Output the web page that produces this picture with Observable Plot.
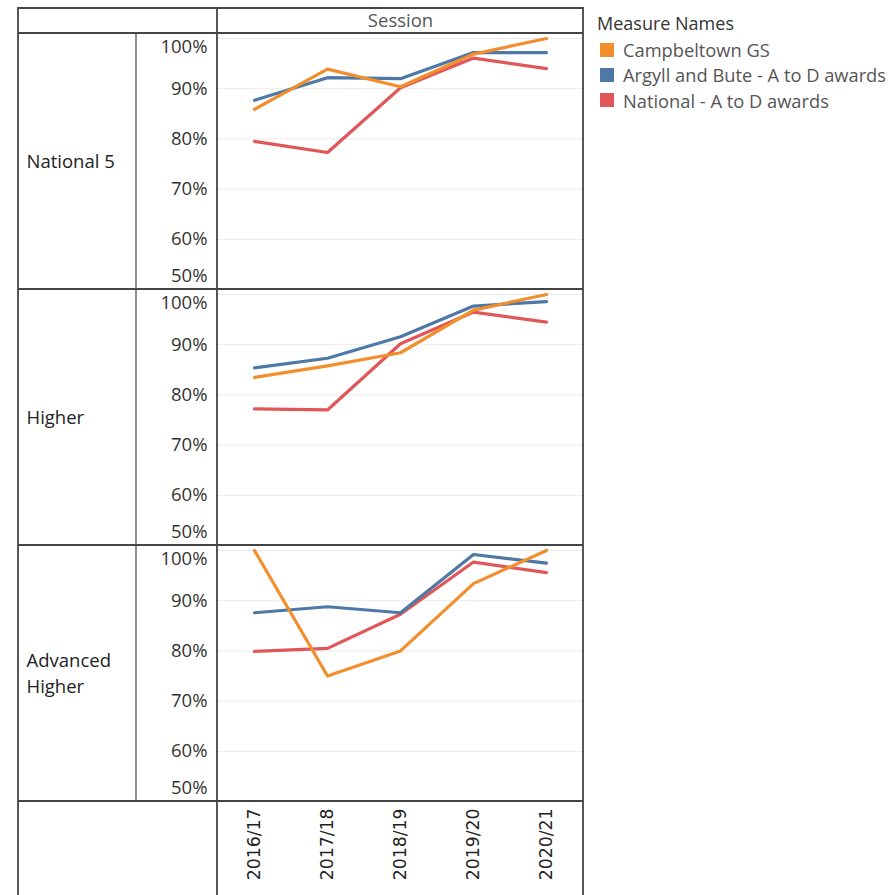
<!DOCTYPE html>
<html>
<head>
<meta charset="utf-8">
<script src="https://cdn.jsdelivr.net/npm/d3@7"></script>
<script src="https://cdn.jsdelivr.net/npm/@observablehq/plot@0.6"></script>
<style>
  html, body { margin: 0; padding: 0; background: #fff; }
  #wrap { position: relative; width: 896px; height: 895px; overflow: hidden; }
  #chart { position: absolute; left: 0; top: 0; }
  #legend { position: absolute; left: 597px; top: 10px; font-family: "Open Sans", sans-serif; }
  #legend .title { font-size: 18px; color: #333; line-height: 27px; height: 27px; }
  #legend .item { display: flex; align-items: center; height: 25.3px; font-size: 18.3px; color: #555; }
  #legend .sw { width: 14px; height: 14px; margin-left: 3px; margin-right: 9px; flex: none; }
</style>
</head>
<body>
<div id="wrap"><div id="chart"></div><div id="legend"></div></div>
<script>
// ---- data ----
const sessions = ["2016/17", "2017/18", "2018/19", "2019/20", "2020/21"];
const levels = ["National 5", "Higher", "Advanced Higher"];
const seriesNames = ["Campbeltown GS", "Argyll and Bute - A to D awards", "National - A to D awards"];
const seriesColors = ["#F28E2B", "#4E79A7", "#E15759"];
const yTicks = [50, 60, 70, 80, 90, 100];

const campbeltownN5 = [85.9, 93.9, 90.4, 96.9, 100.0];
const campbeltownHigher = [83.5, 85.8, 88.4, 96.9, 100.0];
const campbeltownAdvHigher = [100.0, 75.0, 80.0, 93.4, 100.0];

const argyllN5 = [87.7, 92.2, 92.0, 97.2, 97.2];
const argyllHigher = [85.4, 87.3, 91.6, 97.7, 98.6];
const argyllAdvHigher = [87.6, 88.8, 87.6, 99.2, 97.5];

const nationalN5 = [79.5, 77.3, 90.2, 96.1, 94.0];
const nationalHigher = [77.2, 77.0, 90.2, 96.5, 94.5];
const nationalAdvHigher = [79.9, 80.5, 87.3, 97.7, 95.6];

// ---- build long table (draw order: national, argyll, campbeltown) ----
const byLevel = {
  "National 5": [nationalN5, argyllN5, campbeltownN5],
  "Higher": [nationalHigher, argyllHigher, campbeltownHigher],
  "Advanced Higher": [nationalAdvHigher, argyllAdvHigher, campbeltownAdvHigher]
};
const drawOrder = [seriesNames[2], seriesNames[1], seriesNames[0]];
const data = [];
for (const level of levels) {
  byLevel[level].forEach((vals, si) => {
    vals.forEach((v, i) => data.push({level, series: drawOrder[si], session: sessions[i], value: v}));
  });
}

const W = 590, Hgt = 895, mL = 217, mR = 7, mT = 33, mB = 94;
const tickFmt = d => d + "%";
const chart = Plot.plot({
  width: W,
  height: Hgt,
  marginLeft: mL,
  marginRight: mR,
  marginTop: mT,
  marginBottom: mB,
  style: {fontFamily: "Open Sans, sans-serif", fontSize: "18.5px", color: "#333", background: "transparent", overflow: "visible"},
  x: {type: "point", domain: sessions, padding: 0.5},
  y: {domain: [50, 101]},
  fy: {domain: levels, padding: 0, axis: null},
  color: {domain: seriesNames, range: seriesColors},
  marks: [
    Plot.gridY({ticks: yTicks.slice(1), stroke: "#ebebeb", strokeOpacity: 1}),
    Plot.axisY({ticks: yTicks.slice(1, 5), tickSize: 0, tickPadding: 10, tickFormat: tickFmt, label: null, fill: "#333", fontSize: 18.5}),
    Plot.axisY({ticks: [yTicks[5]], tickSize: 0, tickPadding: 10, tickFormat: tickFmt, label: null, dy: 8.5, fill: "#333", fontSize: 18.5}),
    Plot.axisY({ticks: [yTicks[0]], tickSize: 0, tickPadding: 10, tickFormat: tickFmt, label: null, dy: -13, fill: "#333", fontSize: 18.5}),
    Plot.axisX({anchor: "bottom", tickSize: 0, tickPadding: 7, tickRotate: -90, label: null,
      fontFamily: "DejaVu Sans, sans-serif", fontSize: 17.3, fill: "#222"}),
    Plot.text(levels, {fy: d => d, text: d => d === "Advanced Higher" ? "Advanced\nHigher" : d,
      frameAnchor: "left", textAnchor: "start", lineAnchor: "middle", dx: -191, dy: -1.5, lineHeight: 1.4, fontSize: 18.5, fill: "#222"}),
    Plot.text(["Session"], {fy: () => levels[0], frameAnchor: "top", lineAnchor: "middle", dy: -12.5, fill: "#555", fontSize: 18.5}),
    Plot.line(data, {x: "session", y: "value", z: "series", stroke: "series", fy: "level", strokeWidth: 3.2})
  ]
});
document.getElementById("chart").appendChild(chart);

// ---- table frame lines drawn over the Plot SVG ----
{
  const fyS = chart.scale("fy");
  const band = d3.scaleBand().domain(fyS.domain).range(fyS.range).padding(0);
  const left = 18, top = mT - 25, right = W - mR, inner = 136;
  const plotBottom = Hgt - mB;
  const g = d3.select(chart).append("g").attr("fill", "none").attr("stroke", "#444");
  const hs = [top, ...levels.map(l => band(l)), plotBottom];
  for (const y of hs) {
    g.append("line").attr("x1", left).attr("x2", right).attr("y1", y).attr("y2", y).attr("stroke-width", 1.8);
  }
  for (const x of [left, mL, right]) {
    g.append("line").attr("x1", x).attr("x2", x).attr("y1", top - 0.9).attr("y2", Hgt).attr("stroke-width", 1.8);
  }
  g.append("line").attr("x1", inner).attr("x2", inner).attr("y1", mT).attr("y2", plotBottom).attr("stroke-width", 1.2);
}

// ---- legend ----
const leg = document.getElementById("legend");
const t = document.createElement("div");
t.className = "title";
t.textContent = "Measure Names";
leg.appendChild(t);
seriesNames.forEach((name, i) => {
  const row = document.createElement("div");
  row.className = "item";
  const sw = document.createElement("span");
  sw.className = "sw";
  sw.style.background = seriesColors[i];
  const lab = document.createElement("span");
  lab.textContent = name;
  row.appendChild(sw);
  row.appendChild(lab);
  leg.appendChild(row);
});
</script>
</body>
</html>
